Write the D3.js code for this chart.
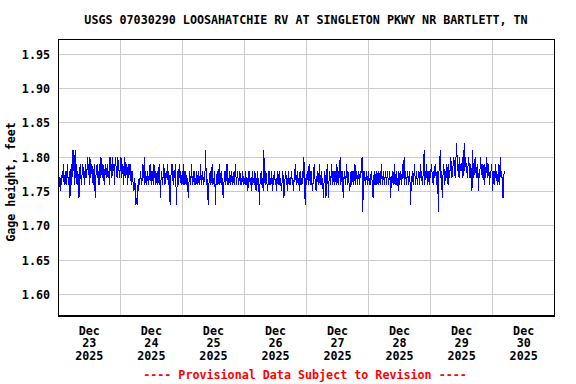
<!DOCTYPE html>
<html>
<head>
<meta charset="utf-8">
<script src="https://cdn.jsdelivr.net/npm/d3@7"></script>
<style>
  html, body { margin: 0; padding: 0; background: #fff; }
  svg { display: block; }
  text { font-family: "DejaVu Sans Mono", "Liberation Mono", monospace; font-weight: bold; }
</style>
</head>
<body>
<svg width="576" height="384"></svg>
<script>
// Gage height in hundredths of a foot above 1.00 ft, 15-minute readings from Dec 23 00:00
const gageHundredths = [
  79,77,77,75,77,76,78,77,79,76,77,78,76,77,79,77,76,78,74,77,79,76,81,78,
  81,76,81,77,79,76,78,77,74,78,79,77,76,78,79,77,78,76,79,78,77,80,78,79,
  76,80,77,78,79,77,76,78,79,74,77,78,79,77,78,76,79,77,80,78,77,79,78,76,
  78,79,77,78,79,77,78,76,80,78,79,77,80,78,79,76,80,79,78,77,80,79,78,77,
  79,80,77,78,79,76,78,80,77,79,78,76,79,77,78,79,77,76,78,77,76,75,77,76,
  73,74,73,76,75,77,76,78,77,76,77,79,77,80,76,78,77,76,78,77,76,78,79,77,
  76,78,77,76,79,77,78,76,77,78,76,77,79,77,74,77,78,76,77,79,78,76,77,78,
  77,79,76,78,76,73,77,78,79,77,76,78,77,79,76,73,77,78,76,79,77,78,76,77,
  78,76,79,77,76,78,77,76,77,74,76,78,77,76,79,77,76,77,78,76,77,76,78,77,
  76,78,77,76,79,77,76,78,77,76,77,78,81,76,77,75,73,76,77,78,76,77,79,76,
  77,76,78,73,76,77,78,76,77,79,76,77,78,76,77,74,76,77,78,76,77,79,76,77,
  76,78,77,76,78,77,76,77,78,76,79,77,76,78,77,76,77,78,76,77,76,78,77,76,
  77,76,78,76,77,75,76,78,77,76,77,75,78,76,77,76,78,77,75,76,78,76,77,73,
  76,77,78,76,77,75,81,77,76,78,77,76,75,77,78,76,77,76,78,75,77,76,78,77,
  76,77,75,78,76,77,78,76,77,75,76,78,77,74,76,77,78,76,77,75,78,76,77,76,
  77,78,76,77,75,77,78,79,76,77,78,76,77,75,78,76,77,76,78,77,80,76,73,77,
  76,78,77,76,79,77,76,78,77,75,76,78,79,77,76,75,77,78,76,77,79,76,77,78,
  76,77,74,76,78,77,74,76,79,77,74,77,78,76,77,79,76,78,77,76,78,77,76,79,
  77,76,78,77,80,76,77,78,76,74,77,78,76,77,79,76,78,77,76,75,77,78,76,77,
  78,76,77,79,76,78,77,76,78,77,76,78,77,79,80,72,76,78,77,76,77,78,76,77,
  78,76,77,76,78,77,76,74,77,78,76,77,78,76,77,78,76,77,78,76,79,77,76,78,
  77,76,78,77,76,78,77,76,77,78,74,76,77,78,76,77,79,76,77,78,76,77,75,78,
  76,77,78,76,77,79,77,80,76,78,77,76,78,77,76,78,77,73,76,77,78,76,77,79,
  77,76,78,77,76,78,77,76,79,77,78,76,77,78,81,76,78,77,79,76,78,77,76,78,
  77,79,78,77,76,78,77,79,78,76,78,77,72,78,79,81,77,78,74,77,79,78,76,78,
  77,79,78,76,79,77,78,80,79,77,78,79,80,78,77,79,82,80,78,79,77,80,78,79,
  78,80,77,79,82,78,80,79,78,77,79,80,78,77,79,78,75,81,78,77,79,80,78,77,
  79,78,75,78,77,80,79,78,77,79,78,76,79,77,78,80,77,79,78,76,78,77,79,78,
  75,77,78,76,79,77,78,76,77,79,76,78,80,77,78,76,74,77,78
];
const startTime = "2025-12-23T00:00:00Z";
const dayLabels = ["Dec 23", "Dec 24", "Dec 25", "Dec 26", "Dec 27", "Dec 28", "Dec 29", "Dec 30"];
const yTicks = [1.60, 1.65, 1.70, 1.75, 1.80, 1.85, 1.90, 1.95];
const titleText = "USGS 07030290 LOOSAHATCHIE RV AT SINGLETON PKWY NR BARTLETT, TN";
const yLabel = "Gage height, feet";
const footerText = "---- Provisional Data Subject to Revision ----";

const t0 = new Date(startTime);
const data = gageHundredths.map((v, i) => ({
  t: d3.utcMinute.offset(t0, i * 15),
  v: 1 + v / 100
}));

const plotLeft = 58.3, plotRight = 554.7, plotTop = 39.3, plotBottom = 316;
const fontSize = "11.7px";
const svg = d3.select("svg");

const x = d3.scaleUtc()
  .domain([t0, d3.utcDay.offset(t0, 8)])
  .range([plotLeft, plotRight]);
const y = d3.scaleLinear()
  .domain([1.56835, 1.97188])
  .range([plotBottom, plotTop]);

svg.append("rect").attr("width", 576).attr("height", 384).attr("fill", "#fff");

// grid
const grid = svg.append("g").attr("stroke", "#cccccc").attr("stroke-width", 1)
  .attr("shape-rendering", "crispEdges");
grid.selectAll("line.h").data(yTicks).enter().append("line")
  .attr("x1", plotLeft).attr("x2", plotRight)
  .attr("y1", d => y(d)).attr("y2", d => y(d));
grid.selectAll("line.v").data(d3.utcDay.range(d3.utcDay.offset(t0, 1), d3.utcDay.offset(t0, 8)))
  .enter().append("line")
  .attr("x1", d => x(d)).attr("x2", d => x(d))
  .attr("y1", plotTop).attr("y2", plotBottom);

// data line
const line = d3.line().x(d => x(d.t)).y(d => y(d.v));
svg.append("path").datum(data)
  .attr("d", line)
  .attr("fill", "none")
  .attr("stroke", "#0000ff")
  .attr("stroke-width", 1)
  .attr("shape-rendering", "crispEdges");

// frame
svg.append("rect")
  .attr("x", plotLeft).attr("y", plotTop)
  .attr("width", plotRight - plotLeft).attr("height", plotBottom - plotTop)
  .attr("fill", "none").attr("stroke", "#000").attr("stroke-width", 1.2)
  .attr("shape-rendering", "crispEdges");

// y tick labels
svg.append("g").selectAll("text").data(yTicks).enter().append("text")
  .attr("x", 50).attr("y", d => y(d) + 4.5)
  .attr("text-anchor", "end")
  .attr("font-size", fontSize)
  .text(d => d3.format(".2f")(d));

// y axis title
svg.append("text")
  .attr("transform", "translate(15,182) rotate(-90)")
  .attr("text-anchor", "middle")
  .attr("font-size", fontSize)
  .text(yLabel);

// x labels at noon
const xl = svg.append("g").selectAll("g").data(dayLabels).enter().append("g")
  .attr("transform", (d, i) => `translate(${x(d3.utcHour.offset(d3.utcDay.offset(t0, i), 12))},0)`);
xl.append("text").attr("y", 334.5).attr("text-anchor", "middle").attr("font-size", fontSize)
  .text(d => d.split(" ")[0]);
xl.append("text").attr("y", 347).attr("text-anchor", "middle").attr("font-size", fontSize)
  .text(d => d.split(" ")[1]);
xl.append("text").attr("y", 359.5).attr("text-anchor", "middle").attr("font-size", fontSize)
  .text("2025");

// title
svg.append("text")
  .attr("x", 306).attr("y", 24)
  .attr("text-anchor", "middle")
  .attr("font-size", fontSize)
  .text(titleText);

// footer
svg.append("text")
  .attr("x", 305).attr("y", 379)
  .attr("text-anchor", "middle")
  .attr("font-size", fontSize)
  .attr("fill", "#ff0000")
  .text(footerText);
</script>
</body>
</html>
